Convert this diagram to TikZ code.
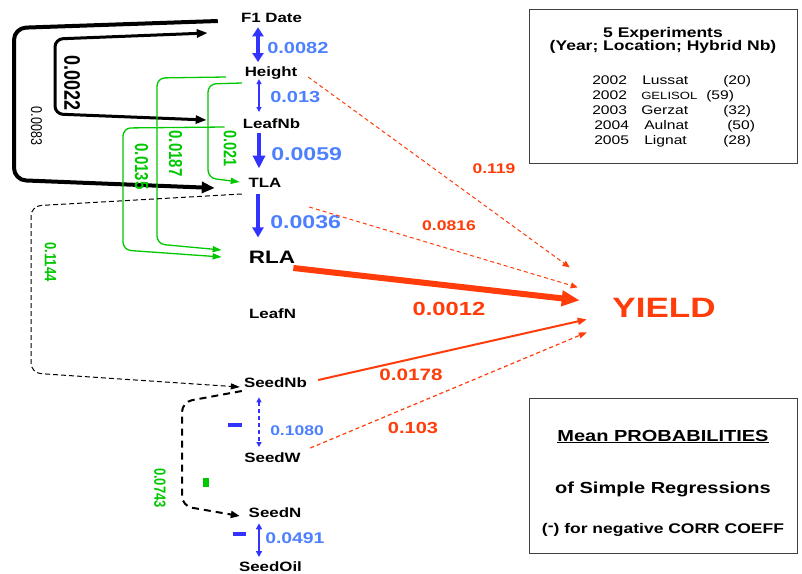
\documentclass[tikz,border=0pt]{standalone}
\usepackage{fontspec}
\setmainfont{Liberation Sans}
\usepackage{tikz}
\usetikzlibrary{arrows.meta}
\definecolor{corrBlue}{RGB}{51, 51, 255}
\definecolor{probBlue}{RGB}{77, 128, 255}
\definecolor{yieldRed}{RGB}{255, 60, 10}
\definecolor{regGreen}{RGB}{0, 200, 0}
\newcommand{\fsz}[1]{\fontsize{#1}{#1}\selectfont}

\begin{document}
\begin{tikzpicture}[x=1pt, y=-1pt,
  txt/.style={inner sep=0pt, xscale=1.25},
  var/.style={txt, anchor=base, font=\bfseries\fsz{13.5}},
  blab/.style={txt, anchor=base west, text=probBlue, font=\bfseries\fsz{#1}},
  rlab/.style={txt, text=yieldRed, font=\bfseries\fsz{#1}},
  glab/.style={txt, rotate=-90, text=regGreen, font=\bfseries\fsz{#1}},
  row/.style={txt, anchor=base west, font=\fsz{12.5}},
  minus/.style={fill=#1, inner sep=0pt},
  corr/.style={draw=corrBlue, line width=#1},
  reg/.style={draw=regGreen, line width=1.3pt, rounded corners=8pt, -{Triangle[length=9pt,width=6pt]}},
  link/.style={draw=yieldRed, line width=#1},
  boxline/.style={draw=black!75, line width=1pt}]
  \useasboundingbox (0,0) rectangle (802,573);

  % Traits
  \node[var] (f1) at (271.5,22) {F1 Date};
  \node[var] (height) at (271,76) {Height};
  \node[var] (leafnb) at (271.5,128) {LeafNb};
  \node[var] (tla) at (265,187) {TLA};
  \node[var, font=\bfseries\fsz{18}] (rla) at (272,263) {RLA};
  \node[var] (leafn) at (272.5,318) {LeafN};
  \node[var] (seednb) at (275.5,387) {SeedNb};
  \node[var] (seedw) at (272.5,462) {SeedW};
  \node[var] (seedn) at (275,517) {SeedN};
  \node[var] (seedoil) at (270.5,571) {SeedOil};
  \node[var, font=\bfseries\fsz{28}, text=yieldRed] (yield) at (664,317) {YIELD};

  % Blue links between neighbours
  \draw[corr=4pt, {Triangle[length=9pt,width=11pt]}-{Triangle[length=9pt,width=11pt]}, shorten <=5pt, shorten >=4pt]
    ([xshift=-13.5pt]f1.south) -- ([xshift=-13pt]height.north);
  \draw[corr=1.5pt, {Triangle[length=5pt,width=5pt]}-{Triangle[length=5pt,width=5pt]}, shorten >=6pt]
    ([xshift=-12pt]height.south) -- ([xshift=-12.5pt]leafnb.north);
  \draw[corr=4.5pt, -{Triangle[length=13pt,width=12pt]}, shorten <=5pt, shorten >=9pt]
    ([xshift=-12.5pt]leafnb.south) -- ([xshift=-6pt]tla.north);
  \draw[corr=4pt, -{Triangle[length=10pt,width=11pt]}, shorten <=7pt, shorten >=13pt]
    ([xshift=-7pt]tla.south) -- ([xshift=-14pt]rla.north);
  \draw[corr=1.5pt, dash pattern=on 4pt off 3pt, {Triangle[length=5pt,width=5pt]}-{Triangle[length=5pt,width=5pt]}, shorten <=10pt, shorten >=5pt]
    ([xshift=-16.5pt]seednb.south) -- ([xshift=-13.5pt]seedw.north);
  \draw[corr=2pt, {Triangle[length=6pt,width=6pt]}-{Triangle[length=6pt,width=6pt]}, shorten <=6pt, shorten >=4pt]
    ([xshift=-16pt]seedn.south) -- ([xshift=-11.5pt]seedoil.north);

  \node[blab=16] (p1) at (267,53) {0.0082};
  \node[blab=16] (p2) at (270,102) {0.013};
  \node[blab=18.5] (p3) at (271,160) {0.0059};
  \node[blab=18.5] (p4) at (270,228) {0.0036};
  \node[blab=14] (p5) at (270,435) {0.1080};
  \node[blab=15.5] (p6) at (265,543) {0.0491};
  \node[minus=corrBlue, minimum width=14pt, minimum height=4pt] (negw) at (235,425) {};
  \node[minus=corrBlue, minimum width=13pt, minimum height=4pt] (negoil) at (239.5,534) {};

  % Black loops on the left
  \draw[line width=4pt, -{Triangle[length=13pt,width=11pt]}, rounded corners=12pt]
    ([xshift=-23pt,yshift=1pt]f1.base west) -- (14,28) -- (14,180) -- ([xshift=-33.6pt,yshift=-1pt]tla.base west);
  \draw[line width=3pt, {Triangle[length=11pt,width=8pt]}-{Triangle[length=11pt,width=8pt]}, rounded corners=8pt]
    ([xshift=-33pt,yshift=-11pt]f1.base west) -- (55,39) -- (55,114) -- ([xshift=-36pt,yshift=8pt]leafnb.base west);
  \node[txt, rotate=-90, font=\bfseries\fsz{18}] (c22) at (72,83) {0.0022};
  \node[txt, rotate=-90, font=\fsz{12.5}] (c83) at (36.5,126) {0.0083};

  % Green regressions
  \draw[reg] ([xshift=-2.7pt,yshift=-7pt]height.base west) -- (208,84) -- (208,178) -- ([xshift=-8.6pt,yshift=5pt]tla.base west);
  \draw[reg] ([xshift=-18.7pt,yshift=-1pt]height.base west) -- (157,78) -- (157,244) -- ([xshift=-27pt,yshift=13pt]rla.base west);
  \draw[reg] ([xshift=-18pt,yshift=1pt]leafnb.base west) -- (123,128) -- (123,250) -- ([xshift=-27pt,yshift=6pt]rla.base west);
  \node[glab=14.5] (g1) at (230,148.5) {0.021};
  \node[glab=15] (g2) at (175.5,153.5) {0.0187};
  \node[glab=15] (g3) at (141.5,166.5) {0.0135};

  % Dashed loops
  \draw[line width=1pt, dash pattern=on 5pt off 3pt, -{Triangle[length=9pt,width=6pt]}, rounded corners=10pt]
    ([xshift=-6.6pt,yshift=-7pt]tla.base west) -- (31,206) -- (31,373) -- ([xshift=-4pt]seednb.base west);
  \draw[line width=2pt, dash pattern=on 7pt off 5pt, -{Triangle[length=9pt,width=7pt]}, rounded corners=10pt]
    ([xshift=-2pt,yshift=-4pt]seednb.base west) -- (182,402) -- (182,506) -- ([xshift=-8.7pt,yshift=1pt]seedn.base west);
  \node[glab=13] (g4) at (50.5,262) {0.1144};
  \node[glab=13] (g5) at (160,488) {0.0743};
  \node[minus=regGreen, minimum width=6pt, minimum height=9pt] (negn) at (206,482.5) {};

  % Links to yield
  \draw[link=1pt, dash pattern=on 4pt off 3pt, -{Triangle[length=7pt,width=6pt]}]
    ([xshift=10.7pt,yshift=-1pt]height.base east) -- ([xshift=-42.5pt,yshift=40pt]yield.west);
  \draw[link=1pt, dash pattern=on 4pt off 3pt, -{Triangle[length=7pt,width=6pt]}]
    ([xshift=27.6pt,yshift=-20pt]tla.base east) -- ([xshift=-34.5pt,yshift=20pt]yield.west);
  \draw[link=6pt, -{Triangle[length=18pt,width=15pt]}]
    ([xshift=-2pt,yshift=-5pt]rla.base east) -- ([xshift=-32.5pt,yshift=7pt]yield.west);
  \draw[link=2pt, -{Triangle[length=9pt,width=7pt]}]
    ([xshift=11pt,yshift=7pt]seednb.base east) -- ([xshift=-25.5pt,yshift=-12pt]yield.west);
  \draw[link=1.2pt, dash pattern=on 4pt off 3pt, -{Triangle[length=8pt,width=6pt]}]
    ([xshift=9.4pt,yshift=14pt]seedw.base east) -- ([xshift=-25.5pt,yshift=-25pt]yield.west);
  \node[rlab=14] (y1) at (494,169) {0.119};
  \node[rlab=14] (y2) at (449,226) {0.0816};
  \node[rlab=19] (y3) at (449,309) {0.0012};
  \node[rlab=16.5] (y4) at (411,375) {0.0178};
  \node[rlab=16] (y5) at (413,428) {0.103};

  % Experiments box
  \draw[boxline] (529,9) rectangle (797,163);
  \node[txt, anchor=base, font=\bfseries\fsz{14}] (exptitle) at (663,37) {5 Experiments};
  \node[txt, anchor=base, font=\bfseries\fsz{14}] (expkey) at (663,50) {(Year; Location; Hybrid Nb)};
  \foreach \yr/\site/\nb/\yb/\xa/\xb/\xc [count=\i] in {2002/Lussat/{(20)}/84/592/642/723,
      2002/{\fsz{10.5}GELISOL}/{(59)}/99/592/641/706, 2003/Gerzat/{(32)}/114/592/641/723,
      2004/Aulnat/{(50)}/129/594/644/727, 2005/Lignat/{(28)}/144/594/644/723}
  {
    \node[row] (yr\i) at (\xa,\yb) {\yr};
    \node[row] (site\i) at (\xb,\yb) {\site};
    \node[row] (nb\i) at (\xc,\yb) {\nb};
  }

  % Legend box
  \draw[boxline] (529,398) rectangle (797,553);
  \node[txt, anchor=base, font=\bfseries\fsz{16}] (legtitle) at (663,441) {\underline{Mean PROBABILITIES}};
  \node[txt, anchor=base, font=\bfseries\fsz{16}] (legsub) at (663,493) {of Simple Regressions};
  \node[txt, anchor=base, font=\bfseries\fsz{14}] (legneg) at (663,533) {(\raisebox{0.3ex}{-}) for negative CORR COEFF};
\end{tikzpicture}
\end{document}
